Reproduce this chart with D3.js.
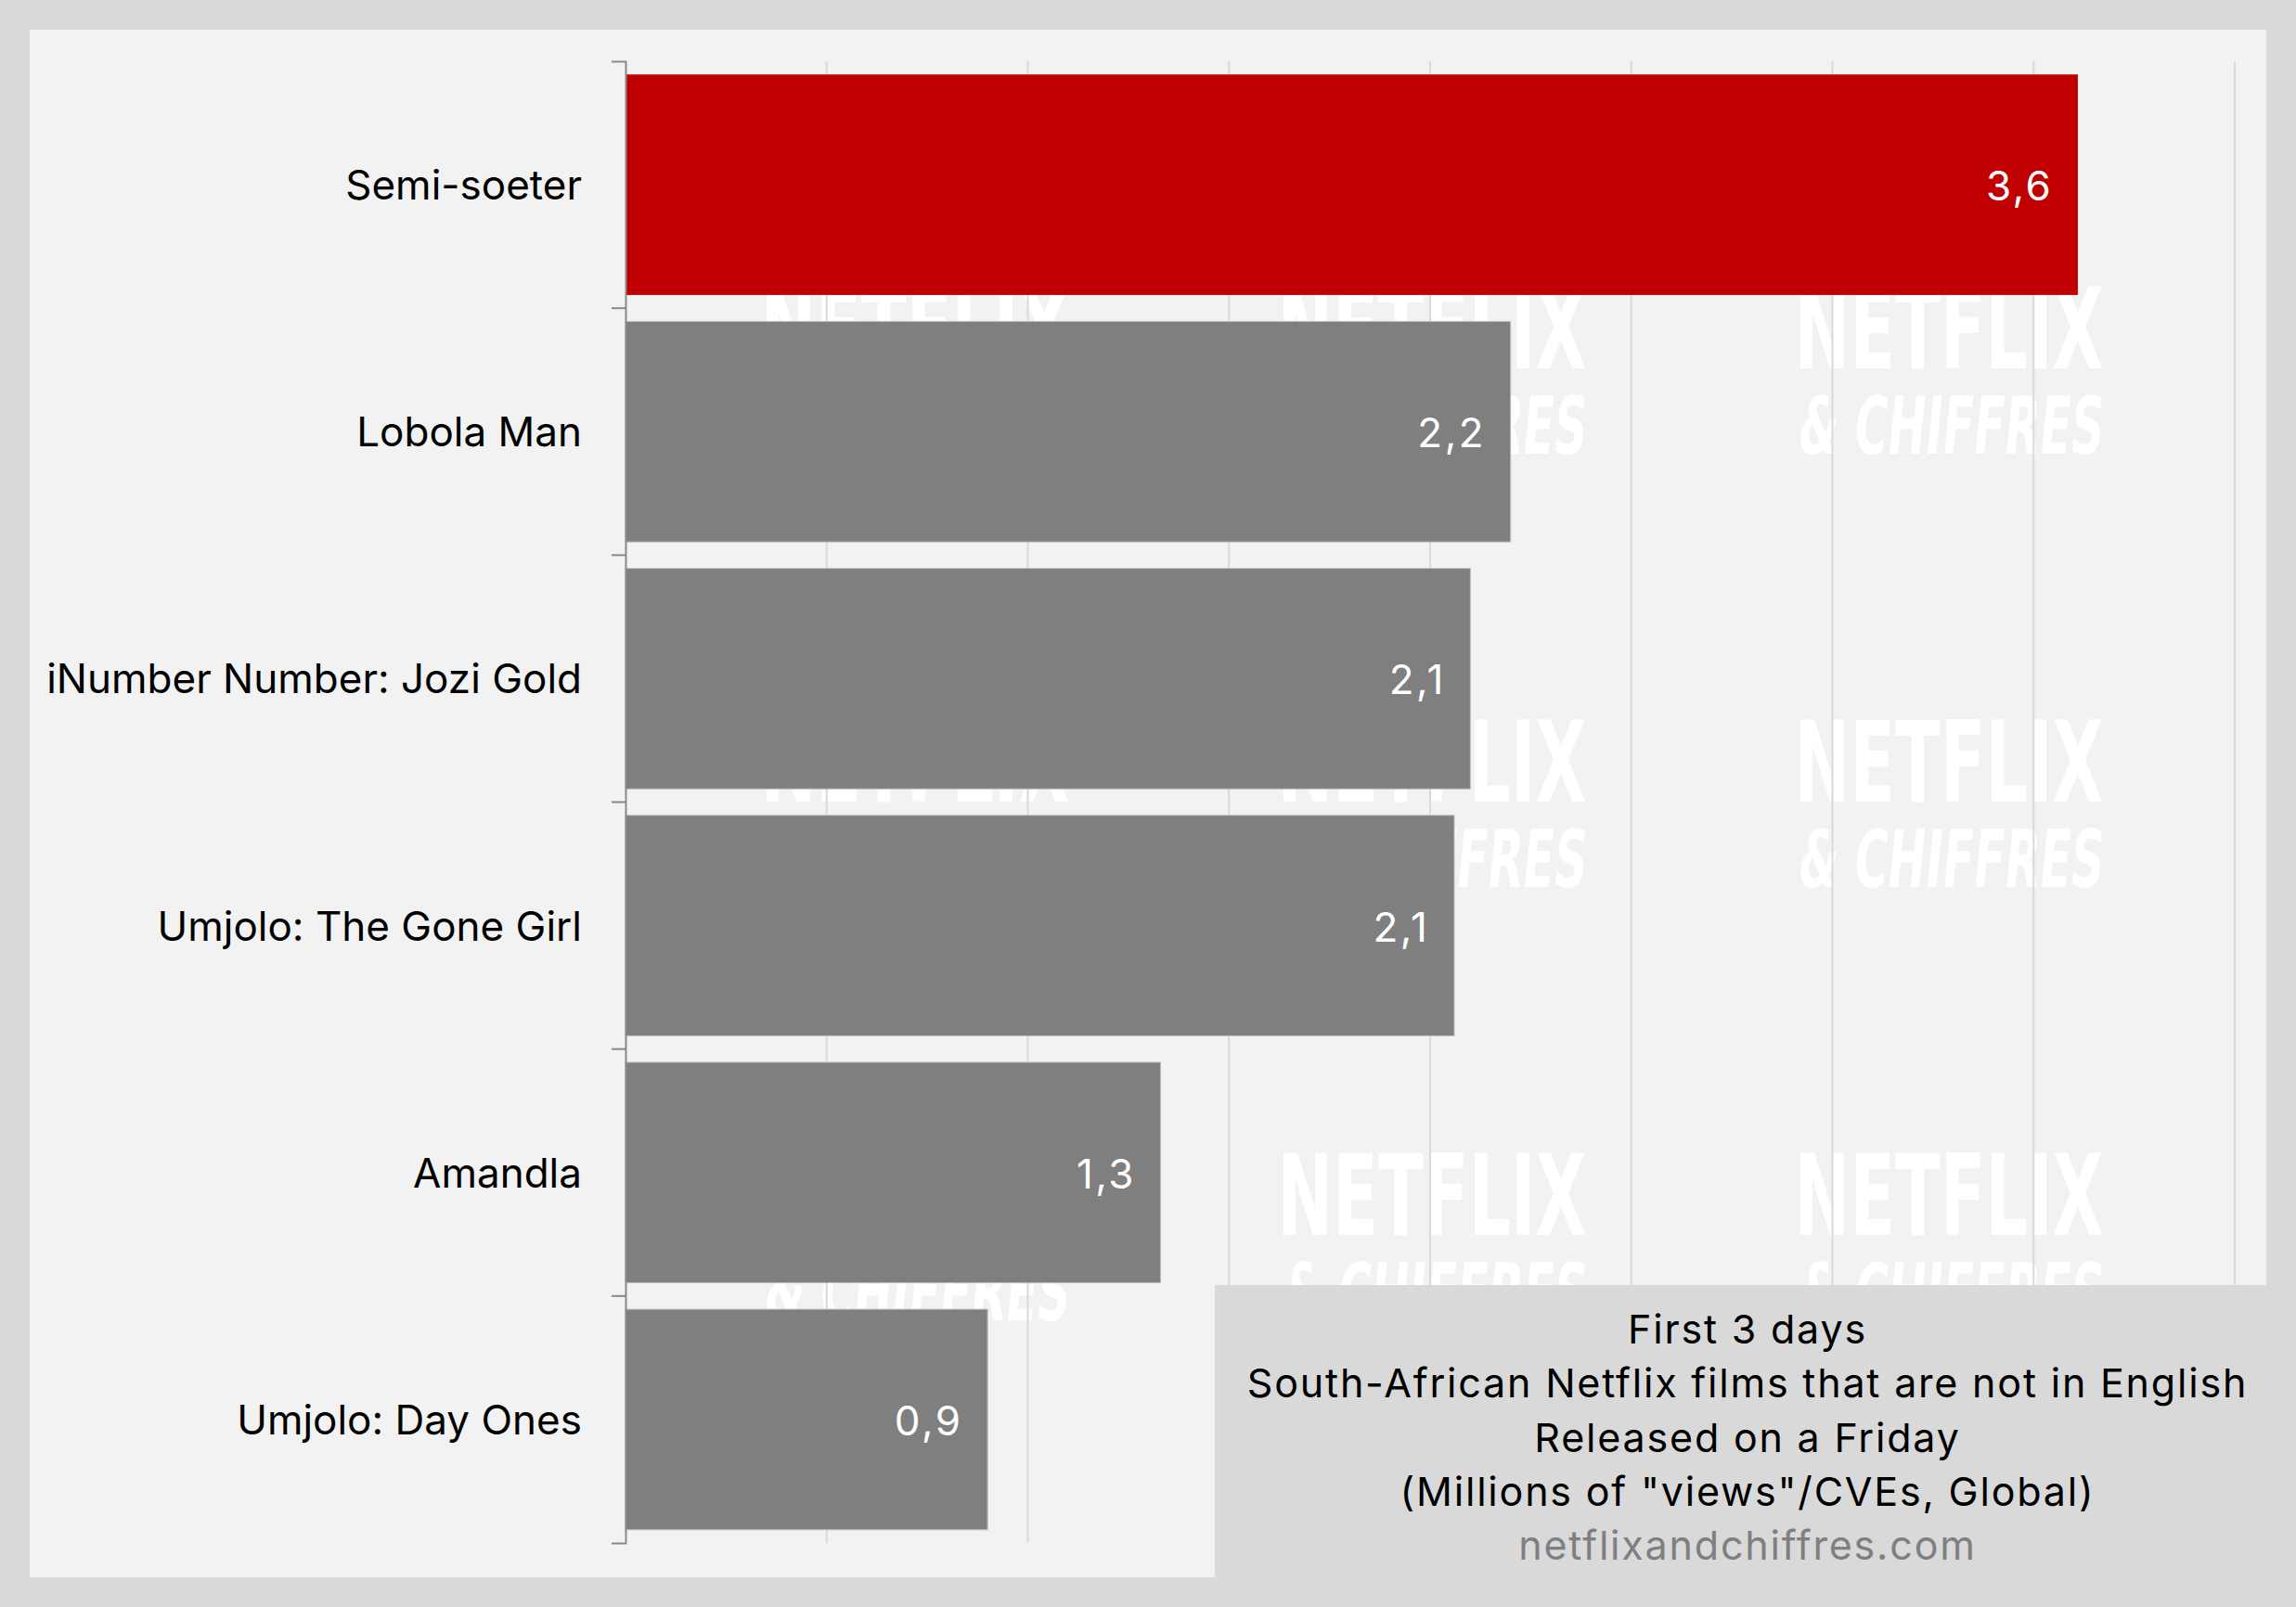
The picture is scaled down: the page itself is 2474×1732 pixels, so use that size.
<!DOCTYPE html>
<html><head><meta charset="utf-8">
<script src="https://cdn.jsdelivr.net/npm/d3@7"></script>
<style>body{margin:0;background:#d9d9d9;} svg{display:block}</style>
</head><body>
<svg id="chart" width="2474" height="1732"></svg>
<script>
// ---- data ----
const categories = ["Semi-soeter", "Lobola Man", "iNumber Number: Jozi Gold", "Umjolo: The Gone Girl", "Amandla", "Umjolo: Day Ones"];
const values = [3.61, 2.20, 2.10, 2.06, 1.33, 0.90];
const highlighted = ["Semi-soeter"];
const gridTicks = [0, 0.5, 1, 1.5, 2, 2.5, 3, 3.5, 4];
const titleLines = ["First 3 days", "South-African Netflix films that are not in English", "Released on a Friday", "(Millions of \"views\"/CVEs, Global)"];
const sourceLine = "netflixandchiffres.com";
const watermarkLines = ["NETFLIX", "& CHIFFRES"];

// ---- layout ----
const W = 2474, H = 1732;
const FONT = "Inter, 'Noto Sans', sans-serif";
const svg = d3.select("#chart");
const panel = {x: 32, y: 32, w: 2410, h: 1668};
const plot = {left: 674, right: 2408, top: 66, bottom: 1663};

svg.append("rect").attr("width", W).attr("height", H).attr("fill", "#d9d9d9");
svg.append("rect").attr("x", panel.x).attr("y", panel.y).attr("width", panel.w).attr("height", panel.h).attr("fill", "#f2f2f2");

const x = d3.scaleLinear().domain([0, 4]).range([plot.left, plot.right]);
const y = d3.scaleBand().domain(categories).range([plot.top, plot.bottom]).paddingInner(0.107).paddingOuter(0.0535);

// watermark
const wm = svg.append("g").attr("fill", "#ffffff");
const wmCols = [986, 1543, 2100], wmRows = [397, 864, 1331];
wmRows.forEach(ry => wmCols.forEach(cx => {
  wm.append("text").attr("transform", `translate(${cx},${ry}) scale(0.59,1)`)
    .attr("text-anchor", "middle").attr("font-family", "'DejaVu Sans', sans-serif")
    .attr("font-weight", "bold").attr("font-size", 121).text(watermarkLines[0]);
  wm.append("text").attr("transform", `translate(${cx},${ry + 92}) scale(0.57,1) skewX(-10)`)
    .attr("text-anchor", "middle").attr("font-family", "'DejaVu Sans', sans-serif")
    .attr("font-weight", "bold").attr("font-size", 86).text(watermarkLines[1]);
}));

// gridlines
svg.append("g").selectAll("line").data(gridTicks.filter(d => d > 0)).join("line")
  .attr("x1", d => x(d)).attr("x2", d => x(d))
  .attr("y1", plot.top).attr("y2", plot.bottom)
  .attr("stroke", "#d9d9d9").attr("stroke-width", 2);

// bars
const data = categories.map((c, i) => ({c, v: values[i]}));
svg.append("g").selectAll("rect").data(data).join("rect")
  .attr("x", x(0)).attr("y", d => y(d.c))
  .attr("width", d => x(d.v) - x(0)).attr("height", y.bandwidth())
  .attr("fill", d => highlighted.includes(d.c) ? "#c00000" : "#7f7f7f")
  .attr("stroke", d => highlighted.includes(d.c) ? "none" : "#bfbfbf")
  .attr("stroke-width", 1);

// value labels
const fmt = v => d3.format(".1f")(v).replace(".", ",");
const valLS = 2.5;
svg.append("g").selectAll("text").data(data).join("text")
  .attr("x", d => x(d.v) - 29 + valLS)
  .attr("y", d => y(d.c) + y.bandwidth() / 2 + 17)
  .attr("text-anchor", "end").attr("fill", "#ffffff")
  .attr("font-family", FONT).attr("font-size", 44)
  .attr("letter-spacing", valLS)
  .text(d => fmt(d.v));

// category axis
const axis = d3.axisLeft(y).tickSizeInner(0).tickSizeOuter(15).tickPadding(47);
const ag = svg.append("g").attr("transform", `translate(${plot.left},0)`).call(axis);
ag.select(".domain").attr("stroke", "#898989").attr("stroke-width", 2);
ag.selectAll(".tick text").attr("font-family", FONT).attr("font-size", 44).attr("fill", "#000")
  .attr("dy", null).attr("y", 16);
// boundary ticks between categories
ag.append("g").selectAll("line").data(categories.slice(1)).join("line")
  .attr("x1", -15).attr("x2", 0)
  .attr("y1", d => y(d) - y.step() * y.paddingInner() / 2)
  .attr("y2", d => y(d) - y.step() * y.paddingInner() / 2)
  .attr("stroke", "#898989").attr("stroke-width", 2);

// title box
const box = {x: 1309, y: 1385, w: panel.x + panel.w - 1309, h: panel.y + panel.h - 1385};
svg.append("rect").attr("x", box.x).attr("y", box.y).attr("width", box.w).attr("height", box.h).attr("fill", "#d9d9d9");
const tcx = 1882;
const lines = titleLines.concat([sourceLine]);
svg.append("g").selectAll("text").data(lines).join("text")
  .attr("x", tcx + 1).attr("y", (d, i) => 1448 + i * 58.3)
  .attr("text-anchor", "middle").attr("font-family", FONT).attr("font-size", 43)
  .attr("letter-spacing", 1.8)
  .attr("fill", (d, i) => i === lines.length - 1 ? "#7f7f7f" : "#000")
  .text(d => d);
</script>
</body></html>
